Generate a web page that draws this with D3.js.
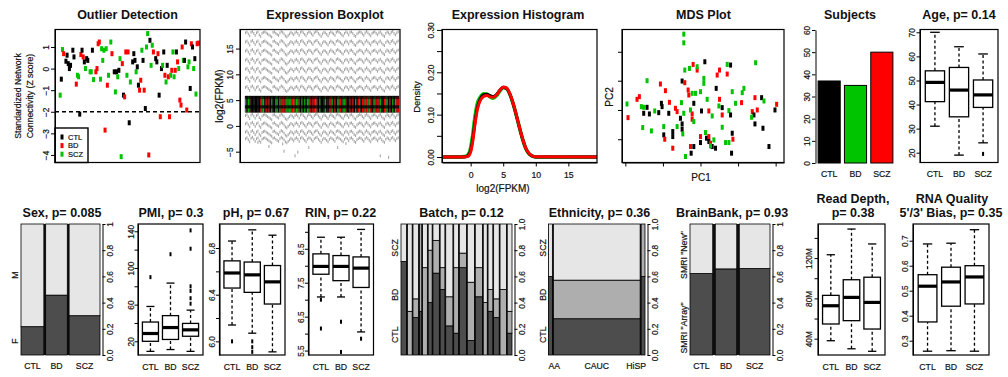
<!DOCTYPE html>
<html><head><meta charset="utf-8">
<script src="https://cdn.jsdelivr.net/npm/d3@7/dist/d3.min.js"></script>
<style>
html,body{margin:0;padding:0;background:#fff;}
svg{display:block;}
text{font-family:"Liberation Sans",Arial,Helvetica,sans-serif;fill:#111;}
text.lab{stroke:#111;stroke-width:0.2px;}
</style></head><body>
<svg id="chart" width="1008" height="377"></svg>
<script>
// ================= DATA =================
const groups = ["CTL","BD","SCZ"];
const subjectCounts = [37,35,50];

// Outlier detection: sample index, z score, group code (k=CTL, r=BD, g=SCZ)
const outIdx = [3,4,5,6,8,9,10,11,12,14,15,17,18,19,20,21,22,23,24,25,26,27,29,30,31,32,34,35,36,37,38,39,40,41,42,43,44,45,47,48,50,51,52,53,54,55,56,57,58,59,60,61,62,63,64,66,67,68,69,70,71,72,73,74,75,76,77,78,79,80,81,82,83,84,86,87,88,89,90,91,92,93,94,95,96,97,98,99,100,101,102,103,104,105,106,107,108,109,110,111,112,113,114,115,116,117,118,119,120,121,122,123];
const outZ = [-1.23,-0.49,0.88,0.69,0.34,0.62,0.23,0,0.15,0.85,0.54,-0.72,-0.31,-0.38,-2.11,0.65,0.85,0.54,0.31,0,0.46,0.38,-0.15,-0.15,0.85,-0.51,-0.15,0,1.15,1.23,-0.49,0.92,0.38,0.85,-2.85,0.92,-0.77,-0.31,1.23,0.69,-0.15,-1.08,-0.15,-0.38,-0.08,0.46,-4.08,0.23,-1.23,-1.31,0.77,-0.31,0.77,-2.51,-0.62,0.31,0.69,0.38,-0.15,0.08,-0.77,-1.0,-0.54,0.85,0.38,-1.0,-1.85,1.0,1.62,-4.0,1.31,0.15,1.08,0.77,0.46,0.31,0.69,-1.23,-2.23,0,0.15,0.77,-0.31,-0.62,0.15,-0.38,-2.23,-0.31,-0.08,0.77,-0.38,-0.08,0.77,0.31,0,-1.46,-1.69,1.0,0.38,0.38,1.23,-1.92,0.08,0.31,-0.92,1.15,1.0,0,0.46,-1.18,1.15,1.18];
const outCodes = "gkgrkkkkkkkrggkrkrkgkkggkgrrrrggggrgrggrkgkgkggrkrrgrkgkkkgkkrrgkrkggrkggrkkrkrkgkrgkrrgrggrkrgrrrgkkrggkrkgkgrr";
const outlierThreshold = -2;

// Expression boxplot: outlier row levels (log2 FPKM), per-sample offsets, box values
const exprUpperRows = [17.75,15.98,14.22,12.45,10.69,8.92,7.16];
const exprLowerRows = [1.7,0.1,-1.5,-2.8];
const exprShift = [0.3,0.5,0.1,-0.3,0.4,0.6,0.2,-0.2,0.3,0.5,-0.1,-0.4,0.2,0.4,0.5,0.3,0.1,-0.1,-0.3,-0.5,0.4,0.5,0.2,0.0,-0.2,0.3,0.6,0.4,0.1,-0.3,-0.5,-0.2,0.1,0.4,0.2,-0.1,0.3,0.5,0.2,-0.2,0.4,0.6,0.3,0.0,-0.3,0.2,0.5,0.4,0.1,-0.2,0.3,0.5,0.6,0.2,-0.1,-0.4,0.1,0.4,0.3,0.0,-0.3,0.2,0.5,0.3,0.1,-0.2,0.4,0.6,0.4,0.2,-0.1,-0.3,0.2,0.5,0.3,-0.1,0.4,0.5,0.2,-0.2,-0.4,0.1,0.3,0.5,0.4,0.1,-0.2,0.3,0.6,0.3,0.0,-0.3,0.2,0.4,0.5,0.2,-0.1,0.3,0.5,0.1,-0.2,-0.4,0.2,0.5,0.3,0.0,0.4,0.6,0.2,-0.1,0.3,0.5];
const exprLowIdx = [9,17,27,28,36,38,46,67,73,98,104];
const exprLowVal = [-3.2,-4.0,-3.5,-4.9,-5.8,-5.1,-4.2,-4.2,-3.4,-5.8,-6.1];
const exprBoxLow = 2.6, exprMedian = 3.7, exprHinge = 5.2, exprBoxHigh = 5.8;

// Expression histogram density curves
const histX = [-4.4,-1.5,-1,-0.5,0,0.3,0.6,1,1.5,2,2.5,3,3.5,4,4.5,5,5.5,6,6.5,7,7.5,8,8.5,9,9.5,10,19.4];
const densSCZ = [0,0,0.001,0.004,0.022,0.05,0.088,0.125,0.142,0.149,0.148,0.142,0.139,0.145,0.156,0.164,0.162,0.149,0.127,0.099,0.069,0.041,0.019,0.007,0.002,0,0];
const densCTL = [0,0,0,0.002,0.015,0.04,0.075,0.115,0.138,0.147,0.148,0.145,0.143,0.148,0.158,0.164,0.162,0.149,0.127,0.099,0.069,0.041,0.019,0.007,0.002,0,0];
const densBD  = [0,0,0,0.001,0.012,0.035,0.07,0.11,0.134,0.143,0.145,0.142,0.141,0.147,0.158,0.165,0.163,0.15,0.128,0.1,0.07,0.042,0.02,0.008,0.002,0.0005,0];

// MDS plot
const mdsPC1 = [-0.50,-0.50,-0.22,-0.10,0.13,0.57,0.50,0.80,0.90,0.80,1.65,-0.47,-0.33,-0.10,
 -1.60,-1.20,-1.05,-0.55,-0.47,0.10,0.10,-0.37,-0.25,-0.15,0,0.47,-0.35,0.95,1.30,1.25,
 -1.90,-1.83,-2.20,-1.77,-1.70,-1.60,-1.37,-1.17,-1.15,-0.93,-0.57,-0.20,0.20,0.57,0.55,0.65,1.05,1.23,1.63,1.83,1.90,2.28,2.23,
 -2.17,-1.70,-1.53,-1.25,-0.95,-0.75,-0.70,-0.50,-0.60,-0.25,0.03,0.25,0.35,0.65,0.85,0.90,1.55,1.60,1.53,1.70,-0.30,
 -0.55,-0.25,-0.20,1.63,-1.73,-1.47,-1.10,-1.10,-0.83,-0.70,-0.55,-0.53,-0.83,-1.07,0.15,0.18,0,0.40,1.87,0.65,
 0,0.25,0.25,0.30,0.75,0.85,0.95,0.97,-0.83,-0.30,-0.20,-0.28,-0.45,0.35,0.45,0.30,0.93,2.05];
const mdsPC2 = [1.40,1.14,0.49,0.32,0.57,0.32,0.17,0.49,0.47,0.20,0.54,0.32,0.37,0.42,
 0,-0.10,-0.30,-0.01,-0.06,0.07,-0.08,-0.28,-0.38,-0.38,-0.33,-0.23,-0.43,-0.33,-0.23,-0.36,
 -0.56,-0.48,-0.70,-0.78,-0.80,-0.80,-0.91,-0.68,-0.78,-0.65,-0.66,-0.68,-0.56,-0.56,-0.76,-0.81,-0.68,-0.66,-0.51,-0.51,-0.61,-0.71,-0.88,
 -1.11,-0.98,-1.00,-0.96,-0.98,-0.83,-0.93,-0.98,-1.13,-1.00,-0.91,-0.91,-1.06,-1.03,-0.90,-1.03,-0.93,-1.03,-1.10,-0.88,-0.88,
 -1.30,-1.16,-1.23,-1.30,-1.41,-1.51,-1.38,-1.63,-1.53,-1.38,-1.46,-1.60,-1.68,-1.76,-1.56,-1.73,-1.68,-1.78,-1.43,-1.40,
 -1.86,-1.68,-1.83,-1.88,-1.86,-1.86,-1.58,-1.76,-2.03,-1.98,-1.98,-2.18,-2.28,-1.98,-2.03,-1.96,-2.18,-1.98];
const mdsCodes = "ggrrkrrgkrgggg"+"grrkrggrgggkrggg"+"rrgggkgkkrgkgrgkgrrkgrk"+"rkkkkrrgkrkrgrgkrkgrg"+"krgkgggkkgkgkrgkrgkg"+"krkrggkrrrkkgkkgkk";
const mdsTicksX = [-2.25,-1.125,0,1.125,2.25];
const mdsTicksY = [0.87,0,-0.88,-1.76];

// Boxplot stats: [lower whisker, Q1, median, Q3, upper whisker]
const ageStats = [[31,41.2,49.2,54,70],[19,34.9,46,55.4,64],[24.1,38.8,44,50.2,61]];
const ageOut = [[],[],[19.5]];
const pmiStats = [[9,20,28.5,41,58],[11,22,35,48,83.5],[9,25.5,32.5,39.5,54]];
const pmiOut = [[90],[115],[141,121,80,75,67,61]];
const phStats = [[6.14,6.457,6.586,6.69,6.86],[6.07,6.42,6.57,6.68,6.956],[5.91,6.32,6.51,6.65,6.91]];
const phOut = [[6.0],[6.0,5.95,5.91],[]];
const rinStats = [[7.08,7.75,7.98,8.35,8.84],[7.08,7.56,7.98,8.3,8.84],[6.05,7.36,7.93,8.26,9.07]];
const rinOut = [[7.0,6.15],[6.35,5.46],[5.85]];
const readStats = [[38,54.6,72.7,83,123.3],[30,57.9,81,98.5,148.8],[27.5,49.6,76,101,134]];
const readOut = [[],[],[]];
const rnaStats = [[0.258,0.375,0.518,0.564,0.687],[0.26,0.438,0.535,0.594,0.69],[0.258,0.447,0.555,0.60,0.744]];
const rnaOut = [[],[],[]];

// Spine plots (counts)
const sexF = [8,16,15], sexM = [29,19,35];
const batchCTL = [5,0,2,1,0,2,5,3,2,1,6,1,4,0,2,2,0,1];
const batchBD  = [0,2,1,2,4,2,2,1,2,3,1,4,2,2,1,1,4,1];
const batchSCZ = [2,4,4,0,2,1,1,2,5,2,2,4,3,3,3,4,4,4];
const ethLevels = ["AA","CAUC","HiSP"];
const ethCTL = [3,31,3], ethBD = [0,33,2], ethSCZ = [2,48,0];
const bbArray = [23,23,33], bbNew = [14,12,17];
const spineTicks = [0,0.2,0.4,0.6,0.8,1];

// ================= DRAWING =================
const svg = d3.select("#chart");
const COL = {CTL:"#000000", BD:"#ff0000", SCZ:"#00c400"};
const codeMap = {k:"CTL", r:"BD", g:"SCZ"};
const GRAY3 = ["#4d4d4d","#aeaeae","#e6e6e6"];
const GRAY2 = ["#4d4d4d","#e6e6e6"];

function txt(x,y,t,o={}){
  const e = svg.append("text").attr("x",x).attr("y",y).text(t)
    .attr("text-anchor",o.anchor||"middle").attr("font-size",o.size||8);
  if(o.bold) e.attr("font-weight","bold"); else e.attr("class","lab");
  if(o.rot) e.attr("transform",`rotate(-90,${x},${y})`);
  return e;
}
function title(x,y,t){ return txt(x,y,t,{bold:true,size:12.5}); }
function frame(x0,y0,x1,y1,w){
  svg.append("rect").attr("x",x0).attr("y",y0).attr("width",x1-x0).attr("height",y1-y0)
    .attr("fill","none").attr("stroke","#000").attr("stroke-width",w||1.2);
}
function axisL(scale,x,ticks,fmt,off,tlen){
  const g = svg.append("g").attr("transform",`translate(${x},0)`)
    .call(d3.axisLeft(scale).tickValues(ticks).tickFormat(fmt).tickSize(tlen).tickSizeOuter(0));
  g.attr("font-size",8.3).attr("font-family",null);
  g.selectAll(".tick text").attr("class","lab").attr("x",0).attr("y",-off).attr("dy",null)
    .attr("transform","rotate(-90)").attr("text-anchor","middle");
  return g;
}
function axisR(scale,x,ticks,fmt,off,tlen){
  const g = svg.append("g").attr("transform",`translate(${x},0)`)
    .call(d3.axisRight(scale).tickValues(ticks).tickFormat(fmt).tickSize(tlen).tickSizeOuter(0));
  g.attr("font-size",8.3).attr("font-family",null);
  g.selectAll(".tick text").attr("class","lab").attr("x",0).attr("y",off).attr("dy",null)
    .attr("transform","rotate(-90)").attr("text-anchor","middle");
  return g;
}

// ---------- 1. Outlier Detection ----------
(function(){
  const x0=55,x1=200,y0=29.5,y1=162.5;
  const x = d3.scaleLinear().domain([-1.5,124.5]).range([x0,x1]);
  const y = d3.scaleLinear().domain([-4.35,1.81]).range([y1,y0]);
  svg.append("line").attr("x1",x0).attr("x2",x1).attr("y1",y(outlierThreshold)).attr("y2",y(outlierThreshold))
    .attr("stroke","#000").attr("stroke-width",1.4).attr("stroke-dasharray","4,3");
  svg.append("g").selectAll("rect").data(outIdx.map((d,i)=>({i:d,z:outZ[i],g:codeMap[outCodes[i]]})))
    .join("rect").attr("x",d=>x(d.i)-1.5).attr("y",d=>y(d.z)-2.5).attr("width",3).attr("height",5)
    .attr("fill",d=>COL[d.g]);
  const lg = svg.append("g");
  lg.append("rect").attr("x",x0).attr("y",128).attr("width",33).attr("height",y1-128)
    .attr("fill","#fff").attr("stroke","#000").attr("stroke-width",1.4);
  groups.forEach((gname,k)=>{
    const yy = 137 + k*8.6;
    lg.append("rect").attr("x",60.5).attr("y",yy-2.5).attr("width",3).attr("height",5).attr("fill",COL[gname]);
    lg.append("text").attr("class","lab").attr("x",68).attr("y",yy+2.6).attr("font-size",7.5).text(gname);
  });
  axisL(y,x0,[-4,-3,-2,-1,0,1],d=>String(d).replace("-","\u2212"),6,4);
  frame(x0,y0,x1,y1);
  title(127.5,18.5,"Outlier Detection");
  txt(21,96,"Standardized Network",{rot:true,size:8.7});
  txt(32.5,96,"Connectivity (Z score)",{rot:true,size:8.7});
})();

// ---------- 2. Expression Boxplot ----------
(function(){
  const x0=240,x1=400,y0=29.5,y1=162.5;
  const n = outCodes.length;
  const xs = d3.scaleBand().domain(d3.range(n)).range([245,399]);
  const y = d3.scaleLinear().domain([-7.1,18.7]).range([y1,y0]);
  const bw = xs.bandwidth();
  const gg = svg.append("g").attr("fill","#a8a8a8");
  const samples = d3.range(n);
  exprUpperRows.concat(exprLowerRows).forEach(L=>{
    gg.selectAll(null).data(samples).join("rect")
      .attr("x",i=>xs(i)).attr("y",i=>y(L+exprShift[i])-1.4).attr("width",Math.max(1,bw*0.8)).attr("height",2.8);
  });
  gg.selectAll(null).data(exprLowIdx).join("rect")
    .attr("x",i=>xs(i)).attr("y",(i,k)=>y(exprLowVal[k])-1.5).attr("width",1.1).attr("height",3);
  const bg = svg.append("g");
  bg.selectAll(null).data(samples).join("rect")
    .attr("x",i=>xs(i)).attr("width",bw).attr("y",y(exprBoxHigh)).attr("height",y(exprBoxLow)-y(exprBoxHigh))
    .attr("fill",i=>COL[codeMap[outCodes[i]]]).attr("stroke","#000").attr("stroke-width",0.35).attr("stroke-opacity",0.8);
  bg.selectAll(null).data(samples).join("rect")
    .attr("x",i=>xs(i)).attr("width",bw).attr("y",y(exprBoxHigh)).attr("height",y(exprHinge)-y(exprBoxHigh))
    .attr("fill","#000").attr("opacity",0.7);
  bg.selectAll(null).data(samples).join("rect")
    .attr("x",i=>xs(i)).attr("width",bw).attr("y",y(exprMedian)-1.6).attr("height",3.2)
    .attr("fill","#000").attr("opacity",0.85);
  axisL(y,x0,[-5,0,5,10,15],d=>String(d).replace("-","\u2212"),7,4);
  frame(x0,y0,x1,y1);
  title(325,18.5,"Expression Boxplot");
  txt(223,96,"log2(FPKM)",{rot:true,size:10});
})();

// ---------- 3. Expression Histogram ----------
(function(){
  const x0=442,x1=597,y0=29.5,y1=162.5;
  const x = d3.scaleLinear().domain([-4.4,19.4]).range([x0,x1]);
  const y = d3.scaleLinear().domain([-0.013,0.301]).range([y1,y0]);
  const line = d3.line().x((d,i)=>x(histX[i])).y(d=>y(d)).curve(d3.curveMonotoneX);
  [[densSCZ,COL.SCZ,3.6],[densCTL,COL.CTL,3],[densBD,COL.BD,3]].forEach(([arr,c,w])=>{
    svg.append("path").attr("d",line(arr)).attr("fill","none").attr("stroke",c).attr("stroke-width",w).attr("stroke-linejoin","round");
  });
  axisL(y,x0,[0,0.05,0.1,0.15,0.2,0.25,0.3],d=>[0,0.1,0.2,0.3].some(v=>Math.abs(v-d)<1e-9)?d.toFixed(2):"",8,5);
  const gb = svg.append("g").attr("transform",`translate(0,${y1})`)
    .call(d3.axisBottom(x).tickValues([0,5,10,15]).tickSize(4).tickSizeOuter(0));
  gb.attr("font-size",8.7).attr("font-family",null);
  gb.selectAll(".tick text").attr("class","lab").attr("y",9).attr("dy","0.71em");
  frame(x0,y0,x1,y1);
  title(518,18.5,"Expression Histogram");
  txt(420,97,"Density",{rot:true,size:9.5});
  txt(503,191.5,"log2(FPKM)",{size:10});
})();

// ---------- 4. MDS Plot ----------
(function(){
  const x0=622,x1=784,y0=29.5,y1=162.5;
  const x = d3.scaleLinear().domain([-2.35,2.5]).range([x0,x1]);
  const y = d3.scaleLinear().domain([-2.46,1.54]).range([y1,y0]);
  svg.append("g").selectAll("rect").data(mdsPC1.map((d,i)=>({a:d,b:mdsPC2[i],g:codeMap[mdsCodes[i]]})))
    .join("rect").attr("x",d=>x(d.a)-1.5).attr("y",d=>y(d.b)-2.5).attr("width",3).attr("height",5)
    .attr("fill",d=>COL[d.g]);
  axisL(y,x0,mdsTicksY,()=>"",6,4);
  svg.append("g").attr("transform",`translate(0,${y1})`)
    .call(d3.axisBottom(x).tickValues(mdsTicksX).tickFormat(()=>"").tickSize(4).tickSizeOuter(0));
  frame(x0,y0,x1,y1);
  title(703.5,18.5,"MDS Plot");
  txt(613,97,"PC2",{rot:true,size:10});
  txt(701,180.5,"PC1",{size:10});
})();

// ---------- 5. Subjects ----------
(function(){
  const y0=30,y1=163;
  const x = d3.scaleBand().domain(groups).range([816,895]).paddingInner(0.16).paddingOuter(0.08);
  const y = d3.scaleLinear().domain([0,60]).range([y1,y0]);
  const barCol = ["#000000","#00c400","#ff0000"];
  svg.append("g").selectAll("rect").data(groups).join("rect")
    .attr("x",d=>x(d)).attr("width",x.bandwidth()).attr("y",(d,i)=>y(subjectCounts[i]))
    .attr("height",(d,i)=>y(0)-y(subjectCounts[i])).attr("fill",(d,i)=>barCol[i])
    .attr("stroke","#000").attr("stroke-width",1);
  axisL(y,815.5,[0,10,20,30,40,50,60],d=>d,6,3.5);
  groups.forEach(g=>txt(x(g)+x.bandwidth()/2,177,g,{size:8.7}));
  title(850,18.5,"Subjects");
})();

// ---------- Boxplot helper ----------
function boxPanel(p){
  const x = d3.scaleLinear().domain([0.38,3.62]).range([p.x0,p.x1]);
  const y = d3.scaleLinear().domain(p.yDomain).range([p.y1,p.y0]);
  const hw = x(1.4)-x(1);
  const g = svg.append("g").attr("stroke","#000");
  p.stats.forEach((s,i)=>{
    const cx = x(i+1);
    g.append("line").attr("x1",cx).attr("x2",cx).attr("y1",y(s[0])).attr("y2",y(s[1]))
      .attr("stroke-width",1.3).attr("stroke-dasharray","3,2.5");
    g.append("line").attr("x1",cx).attr("x2",cx).attr("y1",y(s[3])).attr("y2",y(s[4]))
      .attr("stroke-width",1.3).attr("stroke-dasharray","3,2.5");
    [s[0],s[4]].forEach(v=>g.append("line").attr("x1",cx-hw/2).attr("x2",cx+hw/2).attr("y1",y(v)).attr("y2",y(v)).attr("stroke-width",1.3));
    g.append("rect").attr("x",cx-hw).attr("width",2*hw).attr("y",y(s[3])).attr("height",y(s[1])-y(s[3]))
      .attr("fill","#fff").attr("stroke-width",1.3);
    g.append("line").attr("x1",cx-hw).attr("x2",cx+hw).attr("y1",y(s[2])).attr("y2",y(s[2])).attr("stroke-width",3.2);
    p.out[i].forEach(v=>g.append("rect").attr("x",cx-1).attr("y",y(v)-2).attr("width",2).attr("height",4)
      .attr("fill","#000").attr("stroke","none"));
    txt(cx,p.y1+14.5,groups[i],{size:8.7});
  });
  axisL(y,p.x0,p.ticks,p.fmt,p.off||5,3.5);
  frame(p.x0,p.y0,p.x1,p.y1);
  if(p.title) title(p.tx,p.ty,p.title);
}

// ---------- 6. Age ----------
boxPanel({x0:920,x1:998,y0:29.5,y1:162.5,yDomain:[15.93,71.16],stats:ageStats,out:ageOut,
  ticks:[20,30,40,50,60,70],fmt:d=>d,off:5,title:"Age, p= 0.14",tx:959,ty:18.5});

// ---------- Spine helper ----------
function spine(p){
  const y = d3.scaleLinear().domain([0,1]).range([p.y1,p.y0]);
  const total = d3.sum(p.cols,c=>d3.sum(c));
  const avail = (p.x1-p.x0) - p.gap*(p.cols.length-1);
  const w = d3.scaleLinear().domain([0,total]).range([0,avail]);
  svg.append("rect").attr("x",p.x0).attr("y",p.y0).attr("width",p.x1-p.x0).attr("height",p.y1-p.y0).attr("fill","#111");
  const g = svg.append("g");
  let cx = p.x0; const centers = [];
  p.cols.forEach(c=>{
    const n = d3.sum(c), cw = w(n); let acc = 0;
    c.forEach((v,j)=>{
      const f0 = acc/n, f1 = (acc+v)/n; acc += v;
      if(v>0) g.append("rect").attr("x",cx).attr("width",cw).attr("y",y(f1)).attr("height",y(f0)-y(f1))
        .attr("fill",p.colors[j]).attr("stroke","#000").attr("stroke-width",0.8);
    });
    centers.push(cx+cw/2); cx += cw + p.gap;
  });
  axisR(y,p.x1+2.5,spineTicks,p.fmt,10.5,3);
  p.yLabels.forEach((t,k)=>txt(p.x0-2.5,y(p.yLabelPos[k]),t,{rot:true,size:8.7}));
  if(p.xLabels) p.xLabels.forEach((t,k)=>{
    const a = p.xAnchor ? p.xAnchor[k] : "middle";
    const xx = a==="start" ? p.x0 : a==="end" ? p.x1+1 : centers[k];
    txt(xx,p.y1+14,t,{size:8.7,anchor:a});
  });
  title(p.tx,216.5,p.title);
}
const fmt1 = d=> d===1 ? "1" : d.toFixed(1);
const fmt10 = d=> d.toFixed(1);

// ---------- 7. Sex ----------
spine({x0:21,x1:100,y0:224,y1:355,gap:1.8,cols:sexF.map((f,i)=>[f,sexM[i]]),colors:GRAY2,fmt:fmt1,
  yLabels:["F","M"],yLabelPos:[0.107,0.61],xLabels:groups,title:"Sex, p= 0.085",tx:62});

// ---------- 8. PMI ----------
boxPanel({x0:138,x1:203,y0:224,y1:355,yDomain:[5.05,147.96],stats:pmiStats,out:pmiOut,
  ticks:[20,40,60,80,100,120,140],fmt:d=>[20,60,100,140].includes(d)?d:"",off:4.5,title:"PMI, p= 0.3",tx:171,ty:216.5});
// ---------- 9. pH ----------
boxPanel({x0:219.5,x1:285,y0:224,y1:355,yDomain:[5.883,7.006],stats:phStats,out:phOut,
  ticks:[6.0,6.2,6.4,6.6,6.8],fmt:d=>[6.0,6.4,6.8].some(v=>Math.abs(v-d)<1e-9)?d.toFixed(1):"",off:4.5,title:"pH, p= 0.67",tx:256,ty:216.5});
// ---------- 10. RIN ----------
boxPanel({x0:308.5,x1:373.5,y0:224,y1:355,yDomain:[5.37,9.23],stats:rinStats,out:rinOut,
  ticks:[5.5,6,6.5,7,7.5,8,8.5,9],fmt:d=>[5.5,6.5,7.5,8.5].includes(d)?d.toFixed(1):"",off:4.5,title:"RIN, p= 0.22",tx:340.5,ty:216.5});

// ---------- 11. Batch ----------
spine({x0:401,x1:512,y0:224,y1:355,gap:0.8,cols:batchCTL.map((c,i)=>[c,batchBD[i],batchSCZ[i]]),colors:GRAY3,fmt:fmt10,
  yLabels:["CTL","BD","SCZ"],yLabelPos:[0.155,0.46,0.817],title:"Batch, p= 0.12",tx:461.5});

// ---------- 12. Ethnicity ----------
spine({x0:548.5,x1:645,y0:224,y1:355,gap:1,cols:ethCTL.map((c,i)=>[c,ethBD[i],ethSCZ[i]]),colors:GRAY3,fmt:fmt10,
  yLabels:["CTL","BD","SCZ"],yLabelPos:[0.155,0.46,0.817],xLabels:ethLevels,xAnchor:["start","middle","end"],
  title:"Ethnicity, p= 0.36",tx:599.5});

// ---------- 13. BrainBank ----------
spine({x0:690,x1:770,y0:224,y1:355,gap:2.5,cols:bbArray.map((a,i)=>[a,bbNew[i]]),colors:GRAY2,fmt:fmt1,
  yLabels:["SMRI \"Array\"","SMRI \"New\""],yLabelPos:[0.206,0.763],xLabels:groups,title:"BrainBank, p= 0.93",tx:732});

// ---------- 14. Read Depth ----------
boxPanel({x0:818,x1:885,y0:224,y1:355,yDomain:[23.83,153.8],stats:readStats,out:readOut,
  ticks:[40,60,80,100,120,140],fmt:d=>[40,80,120].includes(d)?d+"M":"",off:6});
title(853,202.5,"Read Depth,"); title(853,216.5,"p= 0.38");

// ---------- 15. RNA Quality ----------
boxPanel({x0:913,x1:989,y0:224,y1:355,yDomain:[0.2428,0.7668],stats:rnaStats,out:rnaOut,
  ticks:[0.3,0.4,0.5,0.6,0.7],fmt:d=>d.toFixed(1),off:5});
title(952,202.5,"RNA Quality"); title(951,216.5,"5'/3' Bias, p= 0.35");
</script>
</body></html>
